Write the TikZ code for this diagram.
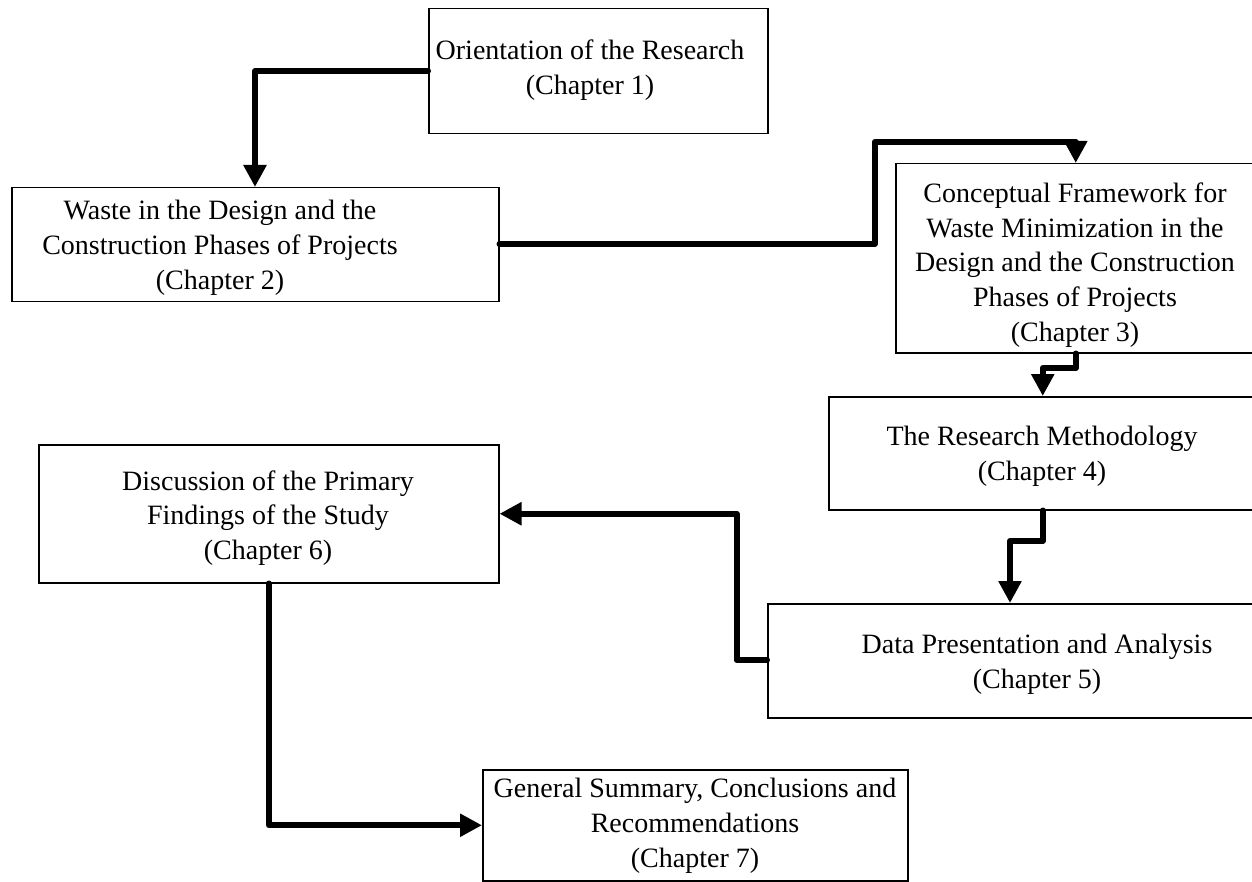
\documentclass[tikz,border=0pt]{standalone}
\usepackage{fontspec}
\setmainfont{Liberation Serif}
\usetikzlibrary{arrows.meta,calc}
\begin{document}
\begin{tikzpicture}[x=1pt,y=-1pt,
  chapbox/.style={draw, line width=1.5pt, rectangle, inner sep=0pt, anchor=north west},
  chaptext/.style={font=\fontsize{28}{34.8}\selectfont, align=center, inner sep=0pt},
  flow/.style={line width=6pt, line cap=round, line join=round,
               -{Triangle[width=22pt,length=22pt]}}]
\useasboundingbox (0,0) rectangle (1252,882);
\clip (0,0) rectangle (1252,882);

% chapter boxes
\node[chapbox, minimum width=339pt, minimum height=125pt] (b1) at (428,8) {};
\node[chapbox, minimum width=487pt, minimum height=114pt] (b2) at (11,187) {};
\node[chapbox, minimum width=360pt, minimum height=189pt] (b3) at (895,163) {};
\node[chapbox, minimum width=428pt, minimum height=113pt] (b4) at (828,396) {};
\node[chapbox, minimum width=546pt, minimum height=114pt] (b5) at (767,603) {};
\node[chapbox, minimum width=460pt, minimum height=138pt] (b6) at (38,444) {};
\node[chapbox, minimum width=425pt, minimum height=111pt] (b7) at (482,769) {};

% chapter titles
\node[chaptext] (t1) at (590,70.5) {Orientation of the Research\\(Chapter 1)};
\node[chaptext] (t2) at (220,248) {Waste in the Design and the\\Construction Phases of Projects\\(Chapter 2)};
\node[chaptext] (t3) at (1075,265) {Conceptual Framework for\\Waste Minimization in the\\Design and the Construction\\Phases of Projects\\(Chapter 3)};
\node[chaptext] (t4) at (1042,456) {The Research Methodology\\(Chapter 4)};
\node[chaptext] (t5) at (1037,664) {Data Presentation and Analysis\\(Chapter 5)};
\node[chaptext] (t6) at (268,518) {Discussion of the Primary\\Findings of the Study\\(Chapter 6)};
\node[chaptext] (t7) at (695,826) {General Summary, Conclusions and\\Recommendations\\(Chapter 7)};

% flow between chapters
\draw[flow] ($(b1.north west)+(0,63)$) -| ($(b2.north west)+(244,0)$);
\draw[flow] ($(b2.north east)+(0,57)$) -| ($(b3.north)+(-201,-21)$) -| (b3.north);
\draw[flow] (b3.south) |- ($(b4.north)+(0,-28)$) -- (b4.north);
\draw[flow] (b4.south) |- ($(b5.north west)+(243,-62)$) -- ($(b5.north west)+(243,0)$);
\draw[flow] ($(b5.north west)+(0,57)$) -| ($(b6.east)+(237,0)$) -- (b6.east);
\draw[flow] (b6.south) |- (b7.west);
\end{tikzpicture}
\end{document}
